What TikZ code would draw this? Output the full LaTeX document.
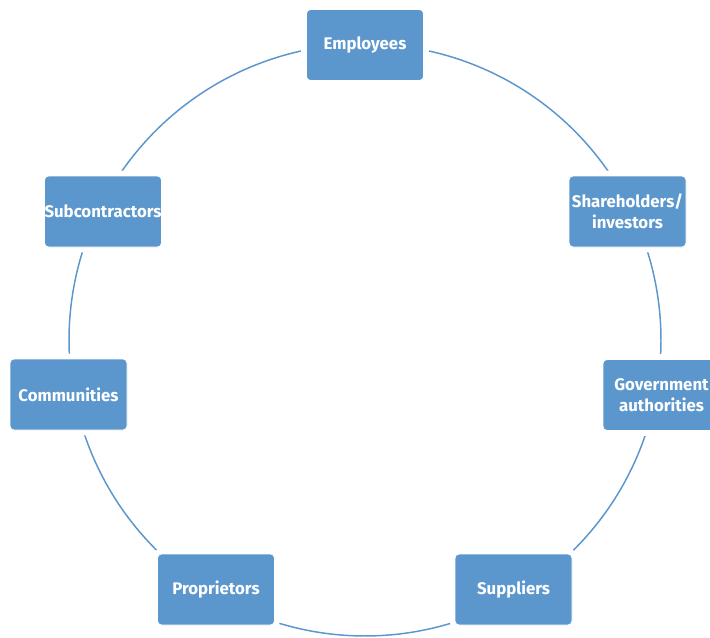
\documentclass[tikz,border=0pt]{standalone}
\usepackage{fontspec}
\setmainfont{Fira Sans}
\usetikzlibrary{calc,backgrounds}
\definecolor{ringblue}{RGB}{91,151,204}

\tikzset{every picture/.style={line width=0.75pt}}
\tikzset{
  party/.style={fill=ringblue, draw=white, line width=0.6pt, rounded corners=3pt,
    minimum width=87.75pt, minimum height=53.25pt, inner sep=0pt, align=center,
    text=white, font=\bfseries\fontsize{12.6}{15.6}\selectfont,
    preaction={draw=white, line width=8pt}},
  ring/.style={draw=ringblue, line width=1.1pt}
}

\begin{document}
\begin{tikzpicture}[x=0.75pt,y=0.75pt]
\useasboundingbox (0,0) rectangle (710,637);

%centre of the ring
\coordinate (hub) at (365,297);

% Text Node
\node[party] (emp) at (365,592) {Employees};
% Text Node
\node[party] (sha) at (627.5,425.5) {Shareholders/\\investors};
% Text Node
\node[party] (gov) at (661.5,242) {Government\\authorities};
% Text Node
\node[party] (sup) at (513.5,47.5) {Suppliers};
% Text Node
\node[party] (pro) at (216,47.5) {Proprietors};
% Text Node
\node[party] (com) at (68.5,242.5) {Communities};
% Text Node
\node[party] (sub) at (103,425.5) {Subcontractors};

%Arcs of the ring
\begin{scope}[on background layer]
\fill[white] (0,0) rectangle (710,637);
\foreach \a/\b in {emp/sha, sha/gov, gov/sup, sup/pro, pro/com, com/sub, sub/emp}{
  \draw[ring] let \p1=($(\a)-(hub)$), \p2=($(\b)-(hub)$),
    \n1={atan2(\y1,\x1)}, \n2={\n1-mod(\n1-atan2(\y2,\x2)+720,360)} in
    ($(hub)+(\n1:222pt)$) arc[start angle=\n1, end angle=\n2, radius=222pt];
}
\end{scope}

\end{tikzpicture}
\end{document}
